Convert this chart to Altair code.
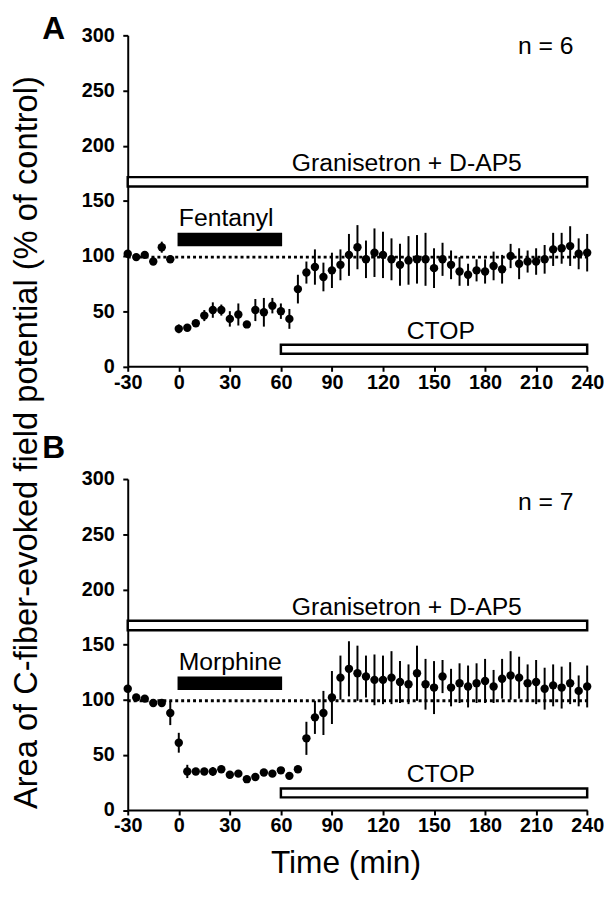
import altair as alt
import pandas as pd

F = "Liberation Sans, Arial, Helvetica, sans-serif"

times = list(range(-30, 245, 5))
xticks = [-30, 0, 30, 60, 90, 120, 150, 180, 210, 240]
yticks = [0, 50, 100, 150, 200, 250, 300]

a_mean = [102, 99, 101, 95, 108, 97,
          34, 35, 39, 46, 51, 51, 43, 47, 38, 51, 49, 55, 50, 43,
          70, 85, 90, 81, 87, 92, 101, 108, 97, 103,
          101, 97, 92, 96, 97, 97, 89, 97, 92, 86,
          83, 87, 86, 91, 88, 100, 93, 95, 95, 97,
          106, 107, 109, 102, 103]
a_err = [3, 2, 2, 2, 5, 2,
         4, 3, 3, 5, 7, 5, 7, 10, 3, 10, 13, 7, 7, 9,
         13, 10, 16, 13, 16, 14, 19, 20, 17, 22,
         21, 19, 19, 22, 22, 24, 18, 15, 13, 13,
         10, 10, 11, 13, 13, 11, 14, 10, 12, 13,
         15, 14, 18, 14, 17]

b_mean = [110, 102, 101, 97, 97, 88,
          61, 35, 35, 35, 35, 37, 32, 33, 28, 30, 34, 33, 36, 31,
          37, 65, 84, 88, 102, 120, 128, 124, 121, 118,
          118, 120, 116, 114, 124, 114, 111, 121, 111, 115,
          112, 115, 117, 112, 119, 122, 120, 115, 116, 110,
          113, 111, 115, 108, 112]
b_err = [3, 2, 2, 2, 2, 11,
         9, 6, 3, 3, 4, 3, 2, 2, 2, 2, 2, 2, 2, 2,
         2, 15, 15, 20, 24, 20, 25, 25, 19, 23,
         22, 24, 19, 18, 25, 23, 24, 15, 17, 18,
         19, 18, 20, 15, 18, 22, 19, 17, 20, 19,
         19, 19, 19, 14, 19]

# treatment bars: Granisetron + D-AP5, opioid, CTOP
bar_x1 = [-30, 0, 60]
bar_x2 = [240, 60, 240]
bar_y1 = [163, 110, 11.5]
bar_y2 = [171.5, 120, 19.5]
bar_fill = ["white", "black", "white"]

W, H = 464.3, 334.5

xs = alt.Scale(domain=[-30, 240], nice=False, zero=False)
ys = alt.Scale(domain=[0, 300], nice=False, zero=False)
common_axis = dict(title=None, grid=False, domainColor="black", domainWidth=2,
                   tickColor="black", tickWidth=2, tickSize=5, labelFont=F,
                   labelFontSize=20, labelFontWeight="bold", labelColor="black",
                   labelFlush=False, labelOverlap=False,
                   labelExpr="'' + datum.value")
xa = alt.Axis(values=xticks, labelPadding=1, **common_axis)
ya = alt.Axis(values=yticks, labelPadding=8.5, **common_axis)


def X(f):
    return alt.X(f, type="quantitative", scale=xs, axis=xa)


def Y(f):
    return alt.Y(f, type="quantitative", scale=ys, axis=ya)


def panel(mean, err, drug, nlab, ny, letter, letter_y, extras):
    df = pd.DataFrame({
        "t": times, "m": mean,
        "lo": [m - e for m, e in zip(mean, err)],
        "hi": [m + e for m, e in zip(mean, err)],
    })
    base = alt.Chart(df)
    dotted = alt.Chart(pd.DataFrame({"x1": [-30], "x2": [240], "y": [99]})).mark_rule(
        color="black", strokeWidth=3, strokeDash=[3, 3]
    ).encode(x=X("x1"), x2="x2", y=Y("y"))
    bars = alt.Chart(pd.DataFrame({"x1": bar_x1, "x2": bar_x2, "y1": bar_y1,
                                   "y2": bar_y2, "f": bar_fill})).mark_rect(
        stroke="black", strokeWidth=2.5
    ).encode(x=X("x1"), x2="x2", y=Y("y1"), y2="y2", fill=alt.Fill("f:N", scale=None))
    errs = base.mark_rule(color="black", strokeWidth=2).encode(x=X("t"), y=Y("lo"), y2="hi")
    pts = base.mark_circle(size=72, color="black", opacity=1).encode(x=X("t"), y=Y("m"))

    def txt(labels, xv, yv, align):
        return alt.Chart(pd.DataFrame({"label": labels, "x": xv, "y": yv})).mark_text(
            align=align, baseline="alphabetic", font=F, fontSize=25, color="black"
        ).encode(x=X("x"), y=Y("y"), text="label:N")

    t_center = txt(["Granisetron + D-AP5", "CTOP"], [134, 154], [177, 25], "center")
    t_left = txt([drug], [0], [127], "left")
    t_right = txt([nlab], [232], [ny], "right")
    let = alt.Chart(pd.DataFrame({"label": [letter]})).mark_text(
        align="left", baseline="alphabetic", font=F, fontSize=32, fontWeight="bold", color="black"
    ).encode(x=alt.value(-86.4), y=alt.value(letter_y), text="label:N")
    layers = [dotted, bars, errs, pts, t_center, t_left, t_right, let] + extras
    return alt.layer(*layers).properties(width=W, height=H)


ytitle = alt.Chart(pd.DataFrame({"label": ["Area of C-fiber-evoked field potential (% of control)"]})).mark_text(
    align="center", baseline="alphabetic", angle=270, font=F, fontSize=33, color="black"
).encode(x=alt.value(-92), y=alt.value(411.6), text="label:N")
anchor = alt.Chart(pd.DataFrame({"a": [0]})).mark_rule(color="white", strokeWidth=1).encode(
    x=alt.value(-120.4), x2=alt.value(-120.4), y=alt.value(-22.4), y2=alt.value(-21.9)
)
xtitle = alt.Chart(pd.DataFrame({"label": ["Time (min)"]})).mark_text(
    align="center", baseline="alphabetic", font=F, fontSize=32, color="black"
).encode(x=alt.value(220.5), y=alt.value(398.4), text="label:N")

pa = panel(a_mean, a_err, "Fentanyl", "n = 6", 283.5, "A", 3.2, [ytitle, anchor])
pb = panel(b_mean, b_err, "Morphine", "n = 7", 271.5, "B", -21.6, [xtitle])

chart = alt.vconcat(pa, pb, spacing=113.4, bounds="flush", padding=0).configure_view(stroke=None)

chart.save("out.html", embed_options={"renderer": "svg", "actions": False})
